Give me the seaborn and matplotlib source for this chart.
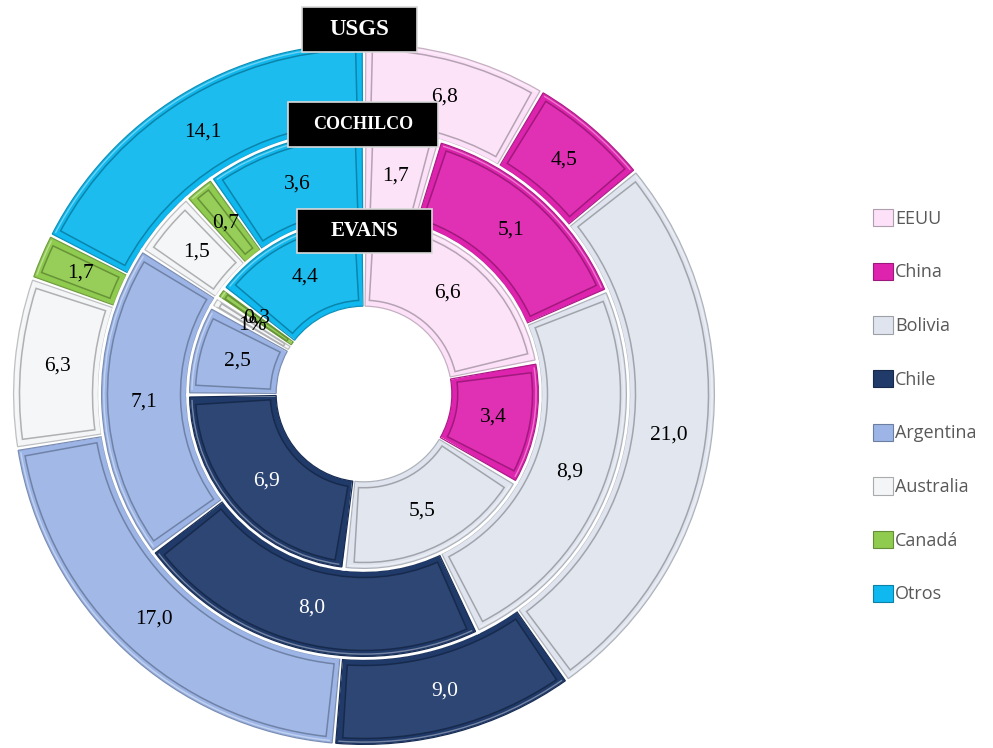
import numpy as np
import matplotlib
matplotlib.use("Agg")
import matplotlib.pyplot as plt
import seaborn as sns
from matplotlib.patches import Wedge, Rectangle, Patch
from matplotlib.colors import to_rgb

# Producers and their share per source (three concentric rings)
countries = ["EEUU", "China", "Bolivia", "Chile", "Argentina", "Australia", "Canadá", "Otros"]
usgs = [6.8, 4.5, 21.0, 9.0, 17.0, 6.3, 1.7, 14.1]
cochilco = [1.7, 5.1, 8.9, 8.0, 7.1, 1.5, 0.7, 3.6]
evans = [6.6, 3.4, 5.5, 6.9, 2.5, 0.3, 0.3, 4.4]
sources = ["USGS", "COCHILCO", "EVANS"]
palette = ["#FCE1F8", "#DE23AE", "#DFE4EE", "#203A6A",
           "#9CB5E6", "#F3F5F7", "#8FCB4E", "#0FB8EE"]

sns.set_theme(style="white")
plt.rcParams["font.family"] = ["Liberation Serif", "DejaVu Serif"]
colors = sns.color_palette(palette)


def shade(c, f):
    r, g, b = to_rgb(c)
    return (r * f, g * f, b * f)


def tint(c, f):
    r, g, b = to_rgb(c)
    return (r + (1 - r) * f, g + (1 - g) * f, b + (1 - b) * f)


def fmt(v):
    return f"{v:.1f}".replace(".", ",")


W, H = 993, 748
fig = plt.figure(figsize=(W / 100, H / 100), dpi=100)
cx, cy, R = 364, 394, 352
ax = fig.add_axes([(cx - R) / W, (H - cy - R) / H, 2 * R / W, 2 * R / H])

# ring definitions: values, outer radius, ring width
rings = [(usgs, 1.0, 0.25), (cochilco, 0.75, 0.25), (evans, 0.5, 0.255)]
ring_labels = []
for vals, rad, wid in rings:
    labs = [fmt(v) for v in vals]
    ring_labels.append(labs)
# Australia's EVANS share is shown as a percentage of the ring
ring_labels[2][5] = f"{evans[5] / sum(evans) * 100:.0f}%"

inset_px = 7.5
for (vals, rad, wid), labs in zip(rings, ring_labels):
    wedges, _ = ax.pie(vals, radius=rad, startangle=90, counterclock=False,
                       colors=colors,
                       wedgeprops=dict(width=wid, edgecolor="white", linewidth=2.6))
    for w, col, lab, i in zip(wedges, colors, labs, range(len(vals))):
        t1, t2 = w.theta1, w.theta2
        r, wd = w.r, w.width
        rm = r - wd / 2
        span = t2 - t1
        # thin darker outline just inside the white gap
        ax.add_patch(Wedge((0, 0), r - 1.6 / R, t1 + np.degrees(1.6 / (R * rm)),
                           t2 - np.degrees(1.6 / (R * rm)), width=wd - 3.2 / R,
                           facecolor="none", edgecolor=shade(col, 0.78), lw=0.9))
        # bevelled inner face
        ins = inset_px / R
        dang = min(np.degrees(inset_px / (R * rm)), span * 0.28)
        ax.add_patch(Wedge((0, 0), r - ins, t1 + dang, t2 - dang, width=wd - 2 * ins,
                           facecolor=tint(col, 0.06), edgecolor=shade(col, 0.72), lw=1.1))
        # light highlight along outer rim
        ax.add_patch(Wedge((0, 0), r - 3.2 / R, t1 + dang * 0.5, t2 - dang * 0.5, width=0.004,
                           facecolor=tint(col, 0.55), edgecolor="none", alpha=0.7))
        mid = np.radians((t1 + t2) / 2)
        ax.text(rm * np.cos(mid), rm * np.sin(mid), lab, ha="center", va="center",
                fontsize=15.5, color="white" if i == 3 else "black", zorder=10)

ax.set_xlim(-1, 1)
ax.set_ylim(-1, 1)
ax.set_aspect("equal")
ax.axis("off")

# source tags above each ring
boxes = [(302, 7, 417, 52, 16.5), (288, 102, 438, 147, 13), (297, 209, 432, 253, 15)]
for name, (x0, y0, x1, y1, fs) in zip(sources, boxes):
    fig.add_artist(Rectangle((x0 / W, 1 - y1 / H), (x1 - x0) / W, (y1 - y0) / H,
                             transform=fig.transFigure, facecolor="black",
                             edgecolor="#d9d9d9", lw=1.2, zorder=5))
    fig.text((x0 + x1) / 2 / W, 1 - (y0 + y1) / 2 / H, name, ha="center", va="center",
             color="white", fontweight="bold", fontsize=fs, zorder=6,
             family=["Liberation Serif", "DejaVu Serif"])

handles = [Patch(facecolor=c, edgecolor=shade(c, 0.7), lw=0.8) for c in colors]
leg = fig.legend(handles, countries, loc="upper left", bbox_to_anchor=(873 / W, 1 - 209 / H),
                 frameon=False, prop=dict(family="Open Sans", size=13), labelcolor="#595959",
                 handlelength=1.1, handleheight=1.1, handletextpad=0.12,
                 labelspacing=1.93, borderpad=0, borderaxespad=0)

fig.savefig("out.png", dpi=100, facecolor="white")
